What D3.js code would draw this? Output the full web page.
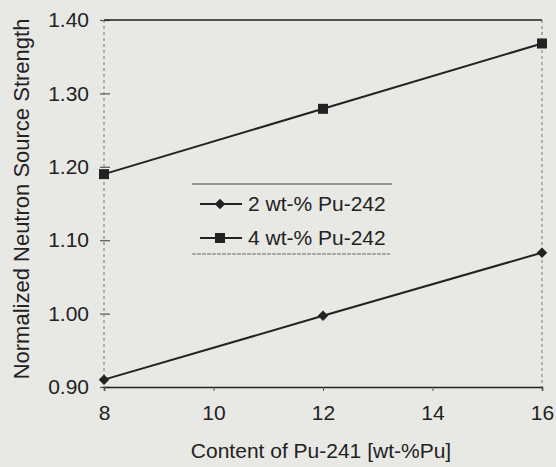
<!DOCTYPE html>
<html>
<head>
<meta charset="utf-8">
<script src="https://cdn.jsdelivr.net/npm/d3@7"></script>
<style>
  body { margin: 0; background: #e8e8e5; }
  svg { display: block; font-family: "Liberation Sans", Arial, sans-serif; }
</style>
</head>
<body>
<div id="chart"></div>
<script>
const contentPu241 = [8, 12, 16];
const pu242_2 = [0.910, 0.997, 1.083];
const pu242_4 = [1.190, 1.279, 1.368];
const seriesNames = ["2 wt-% Pu-242", "4 wt-% Pu-242"];
const xTicks = [8, 10, 12, 14, 16];
const yTicks = [0.90, 1.00, 1.10, 1.20, 1.30, 1.40];

const width = 556, height = 467;
const margin = { top: 20, right: 14, bottom: 80, left: 104 };
const innerW = width - margin.left - margin.right;
const innerH = height - margin.top - margin.bottom;
const fontSize = 21;

const svg = d3.select("#chart").append("svg")
  .attr("width", width)
  .attr("height", height);

svg.append("rect").attr("width", width).attr("height", height).attr("fill", "#e8e8e5");

const g = svg.append("g").attr("transform", `translate(${margin.left},${margin.top})`);

const x = d3.scaleLinear().domain([8, 16]).range([0, innerW]);
const y = d3.scaleLinear().domain([0.9, 1.4]).range([innerH, 0]);

const ink = "#222";

// Eje Y (punteado)
const yAxis = g.append("g")
  .call(d3.axisLeft(y).tickValues(yTicks).tickFormat(d3.format(".2f")).tickSize(0).tickPadding(15));
yAxis.select(".domain").remove();
yAxis.selectAll("text").attr("font-size", fontSize).attr("fill", ink);
yAxis.selectAll(".tick").append("line")
  .attr("x1", -4).attr("x2", 6).attr("stroke", "#555").attr("stroke-width", 1.2);

g.append("line")
  .attr("x1", 0).attr("x2", 0).attr("y1", 0).attr("y2", innerH)
  .attr("stroke", "#777").attr("stroke-dasharray", "3,3");
g.append("line")
  .attr("x1", innerW).attr("x2", innerW).attr("y1", 0).attr("y2", innerH)
  .attr("stroke", "#777").attr("stroke-dasharray", "3,3");

// Línea superior
g.append("line")
  .attr("x1", 0).attr("x2", innerW).attr("y1", 0).attr("y2", 0)
  .attr("stroke", ink).attr("stroke-width", 1.6);

// Eje X
const xAxis = g.append("g")
  .attr("transform", `translate(0,${innerH})`)
  .call(d3.axisBottom(x).tickValues(xTicks).tickSize(4).tickPadding(14));
xAxis.select(".domain").attr("stroke", ink).attr("stroke-width", 1.6);
xAxis.selectAll(".tick line").attr("stroke", "#555");
xAxis.selectAll("text").attr("font-size", fontSize).attr("fill", ink);

// Series
const line = d3.line().x(d => x(d[0])).y(d => y(d[1]));
const s2 = contentPu241.map((c, i) => [c, pu242_2[i]]);
const s4 = contentPu241.map((c, i) => [c, pu242_4[i]]);

[s2, s4].forEach(s => {
  g.append("path").datum(s)
    .attr("fill", "none").attr("stroke", ink).attr("stroke-width", 2)
    .attr("d", line);
});

const diamond = d3.symbol().type(d3.symbolDiamond2).size(70);
g.selectAll(".pt2").data(s2).enter().append("path")
  .attr("transform", d => `translate(${x(d[0])},${y(d[1])})`)
  .attr("d", diamond).attr("fill", ink);

g.selectAll(".pt4").data(s4).enter().append("rect")
  .attr("x", d => x(d[0]) - 5).attr("y", d => y(d[1]) - 5)
  .attr("width", 10).attr("height", 10).attr("fill", ink);

// Leyenda
const leg = svg.append("g");
leg.append("line").attr("x1", 192).attr("x2", 392).attr("y1", 184).attr("y2", 184)
  .attr("stroke", "#444").attr("stroke-width", 1.2);
leg.append("line").attr("x1", 192).attr("x2", 390).attr("y1", 254).attr("y2", 254)
  .attr("stroke", "#666").attr("stroke-width", 1.2).attr("stroke-dasharray", "4,1");

seriesNames.forEach((name, i) => {
  const ly = 204 + i * 34;
  leg.append("line").attr("x1", 200).attr("x2", 242).attr("y1", ly).attr("y2", ly)
    .attr("stroke", ink).attr("stroke-width", 2);
  if (i === 0) {
    leg.append("path").attr("transform", `translate(220,${ly})`).attr("d", diamond).attr("fill", ink);
  } else {
    leg.append("rect").attr("x", 215).attr("y", ly - 5).attr("width", 10).attr("height", 10).attr("fill", ink);
  }
  leg.append("text").attr("x", 248).attr("y", ly + 7)
    .attr("font-size", fontSize).attr("fill", ink).text(name);
});

// Títulos de ejes
svg.append("text")
  .attr("x", 321).attr("y", 458)
  .attr("text-anchor", "middle").attr("font-size", fontSize).attr("fill", ink)
  .text("Content of Pu-241 [wt-%Pu]");

svg.append("text")
  .attr("transform", "translate(29,199) rotate(-90)")
  .attr("text-anchor", "middle").attr("font-size", 22).attr("fill", ink)
  .text("Normalized Neutron Source Strength");
</script>
</body>
</html>
